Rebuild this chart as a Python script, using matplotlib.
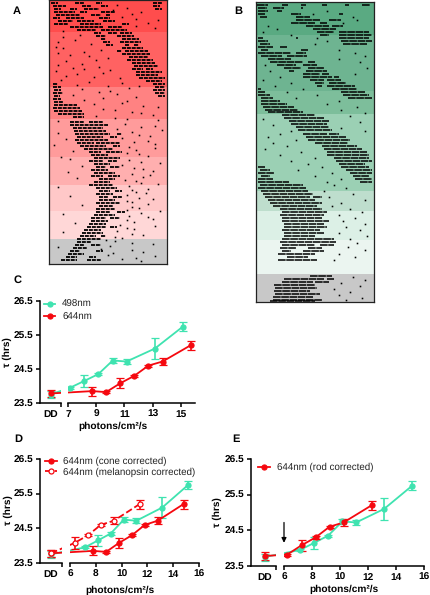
import matplotlib
matplotlib.use('Agg')
import matplotlib.pyplot as plt
from matplotlib.lines import Line2D

plt.rcParams['font.family'] = ['Liberation Sans', 'DejaVu Sans']
plt.rcParams['text.hinting'] = 'no_hinting'

W, H = 430, 595

# actogram background bands (top row, colour)
a_edges = [0, 32, 87, 119, 157, 185, 211, 239, 264]
a_colors = ['#ff4d4d', '#ff6262', '#ff8282', '#ff9b9b', '#ffafaf', '#ffc8c8', '#ffd7d7', '#c8c8c8']
b_edges = [0, 33, 89, 112, 189, 209, 238, 272, 300]
b_colors = ['#5aaa82', '#6eb491', '#7dbe9b', '#9bd0b4', '#bedecd', '#dcf0e6', '#ebf5f0', '#c8c8c8']

# activity bouts: (row, start %, end %)
a_bouts = [(3,2,8),(3,22,30),(3,40,45),(3,88,96),(6,3,14),(6,28,36),(6,44,50),(6,88,94),(9,4,10),(9,18,24),
    (9,30,42),(9,90,96),(12,4,22),(12,26,32),(12,44,56),(15,6,26),(15,36,44),(15,48,52),(18,3,9),(18,14,30),
    (18,42,52),(21,8,20),(21,24,38),(21,46,56),(24,4,16),(24,26,44),(24,62,68),(27,18,46),(27,50,62),(30,24,40),
    (30,44,66),(33,38,44),(33,50,58),(33,60,70),(36,40,48),(36,58,72),(39,44,48),(39,62,76),(42,46,52),(42,60,78),
    (45,48,54),(45,64,68),(45,72,76),(48,62,80),(51,58,62),(51,64,84),(54,62,86),(57,68,84),(60,66,88),(63,70,90),
    (66,72,92),(69,70,80),(69,82,88),(72,74,96),(75,74,92),(78,76,98),(81,82,96),(84,3,8),(84,88,98),(87,3,10),
    (87,90,98),(90,4,10),(90,88,98),(93,3,12),(93,90,98),(96,4,9),(96,92,98),(99,3,10),(102,4,12),(105,4,24),
    (108,3,26),(111,4,28),(114,8,30),(117,20,30),(122,18,30),(122,34,46),(125,18,50),(128,20,46),(131,21,48),
    (134,22,52),(134,58,62),(137,24,46),(137,52,58),(140,22,50),(143,24,38),(143,40,60),(146,26,48),(146,54,60),
    (149,30,54),(152,34,44),(152,48,62),(155,36,50),(158,38,60),(161,34,46),(161,50,58),(164,38,52),(167,40,48),
    (167,52,60),(170,36,50),(173,38,56),(176,36,46),(176,50,60),(179,42,56),(182,38,52),(185,34,54),(188,40,58),
    (191,42,52),(191,56,62),(194,40,54),(197,42,50),(197,54,62),(200,42,56),(203,40,60),(206,42,54),(209,40,56),
    (212,40,52),(212,58,64),(215,38,56),(218,36,48),(218,52,60),(221,36,50),(224,34,48),(227,32,48),(227,52,58),
    (230,30,44),(233,28,46),(236,26,40),(236,44,48),(239,24,44),(242,24,36),(245,22,30),(245,36,44),(248,20,32),
    (251,18,26),(251,40,46),(254,16,30),(257,14,24),(257,34,40),(260,10,24),(260,32,44)]
a_specks = [(8,66,),(14,70),(19,74),(23,84),(28,90),(12,78),(37,12),(42,8),(48,12),(52,30),(55,18),(60,40),(64,28),
    (68,20),(71,6),(73,46),(76,14),(78,60),(70,52),(82,34),(85,24),(86,50),(88,68),(92,42),(94,58),(97,74),(100,30),
    (103,62),(106,80),(109,46),(112,70),(115,88),(118,56),(120,92),(124,64),(127,78),(130,96),(133,8),(136,86),
    (139,14),(142,72),(145,4),(148,90),(151,20),(154,76),(157,10),(160,68),(163,94),(166,28),(169,80),(172,16),
    (175,86),(178,24),(181,74),(184,92),(187,8),(190,70),(193,82),(196,18),(199,88),(202,70),(205,28),(208,76),
    (211,94),(214,12),(217,84),(220,66),(223,22),(226,90),(229,72),(232,12),(235,80),(238,62),(241,56),(244,88),
    (247,8),(250,70),(253,54),(256,90),(259,62),(261,78),(5,58),(10,54),(17,62),(20,92),(26,74),(31,12),(35,26),
    (40,22),(44,36),(47,6),(50,44),(53,8),(56,34),(58,50),(61,14),(65,8),(67,42),(69,30),(74,24),(77,38),(80,10),
    (83,62),(86,76),(89,28),(91,52),(95,20),(98,46),(101,66),(104,38),(107,92),(110,56),(113,78),(116,40),(119,66),
    (121,8),(126,90),(129,58),(132,70),(135,76),(138,62),(141,84),(144,90),(147,68),(150,74),(153,66),(156,84),
    (159,18),(162,78),(165,62),(168,72),(171,88),(174,70),(177,80),(180,64),(183,78),(186,68),(189,84),(192,74),
    (195,66),(198,76),(201,66),(204,84),(207,70),(210,66),(213,78),(216,68),(219,88),(222,72),(225,60),(228,66),
    (231,58),(234,70),(237,56),(240,48),(243,70),(246,52),(249,44),(252,80),(255,50),(258,74)]
b_bouts = [(3,1,10),(3,22,27),(3,38,42),(3,56,60),(3,75,79),(3,90,97),(6,2,9),(6,14,24),(6,38,40),(9,2,10),(9,18,22),
    (12,2,8),(12,30,38),(12,70,74),(15,3,9),(15,34,46),(18,34,54),(18,62,72),(21,30,50),(21,54,60),(24,42,62),(24,64,74),
    (27,48,68),(30,52,66),(30,70,96),(33,54,62),(33,70,98),(36,2,6),(36,34,36),(36,70,96),(39,2,10),(39,72,98),
    (42,3,12),(42,74,94),(45,2,14),(45,20,26),(48,4,10),(48,38,44),(51,2,30),(51,34,42),(54,4,22),(54,26,43),
    (57,10,30),(60,12,40),(60,44,50),(63,18,34),(63,40,52),(66,24,38),(66,44,58),(69,28,32),(69,42,60),(72,40,54),
    (72,56,62),(75,40,64),(75,66,70),(78,46,58),(78,60,72),(81,50,58),(81,62,76),(84,52,56),(84,60,84),(87,2,4),
    (87,64,86),(90,2,8),(90,72,92),(93,2,12),(93,74,96),(96,4,14),(96,78,98),(99,4,20),(102,4,26),(105,6,32),
    (108,8,36),(110,10,40),(113,22,50),(116,24,58),(119,28,62),(122,30,60),(125,34,62),(128,36,64),(132,40,60),
    (132,62,70),(135,42,76),(138,44,80),(141,50,78),(144,56,86),(147,58,90),(150,60,94),(153,60,96),(156,66,96),
    (159,68,98),(162,70,92),(165,2,8),(165,72,96),(168,3,12),(168,76,98),(171,2,15),(171,80,98),(174,4,12),
    (174,82,96),(177,2,14),(177,84,98),(180,2,28),(180,88,98),(183,3,40),(186,2,42),(189,4,44),(192,6,48),
    (195,8,46),(195,48,56),(198,10,50),(201,12,56),(204,14,52),(207,20,56),(210,22,60),(213,20,58),(216,22,56),
    (219,22,62),(222,24,58),(225,24,60),(228,22,54),(231,24,58),(234,24,50),(237,22,66),(240,20,68),(243,22,50),
    (243,54,66),(246,20,34),(246,44,56),(249,22,30),(249,40,58),(252,19,50),(255,26,44),(258,19,52),(274,46,64),
    (277,24,58),(277,60,66),(280,22,48),(280,50,62),(283,15,50),(286,16,52),(289,15,46),(292,16,54),(295,14,48),
    (298,14,56),(299,12,50)]
b_specks = [(9,60),(12,48),(15,82),(18,86),(21,74),(24,10),(27,18),(30,6),(33,30),(36,52),(39,60),(42,50),(48,70),
    (51,84),(54,92),(57,70),(60,88),(63,8),(66,94),(69,12),(72,84),(75,20),(78,6),(81,30),(84,16),(87,40),(90,26),
    (93,52),(96,34),(99,70),(102,60),(105,86),(108,72),(111,92),(114,80),(117,6),(120,88),(123,14),(126,72),(129,30),
    (129,92),(132,20),(135,10),(138,34),(141,14),(144,26),(147,8),(150,38),(153,20),(156,50),(159,30),(162,44),
    (165,56),(168,36),(171,64),(174,50),(177,72),(180,60),(183,66),(186,76),(189,58),(192,82),(195,62),(198,92),
    (201,72),(204,64),(207,80),(210,90),(213,70),(216,84),(219,74),(222,92),(225,76),(228,88),(231,70),(234,94),
    (237,80),(241,86),(245,78),(248,92),(252,70),(255,84),(258,66),(275,82),(278,92),(281,72),(284,88),(287,66),
    (290,80),(293,70),(296,90),(298,76)]

# tau values, shared between panels
green_dd, green_dd_err = 23.75, 0.1
green_x = [7.15, 8.16, 9.15, 10.17, 11.15, 13.15, 15.15]
green_tau = [23.95, 24.15, 24.35, 24.75, 24.72, 25.1, 25.75]
green_err = [0.03, 0.17, 0.03, 0.08, 0.08, 0.3, 0.12]

red_dd, red_dd_err = 23.78, 0.1
red_tau = [23.85, 23.82, 24.08, 24.3, 24.6, 24.72, 25.2]
red_err = [0.13, 0.03, 0.15, 0.03, 0.03, 0.1, 0.13]
c_red_x = [8.73, 9.7, 10.7, 11.7, 12.7, 13.7, 15.7]
d_red_x = [7.8, 8.8, 9.8, 10.8, 11.8, 12.8, 14.8]

open_x = [6.36, 7.39, 8.39, 9.4, 11.4]
open_tau = [24.08, 24.3, 24.6, 24.72, 25.2]
open_err = [0.17, 0.03, 0.03, 0.1, 0.13]

e_red_x = [6.23, 7.25, 8.25, 9.25, 10.25, 12.25]
e_red_tau = [23.82, 24.08, 24.3, 24.6, 24.72, 25.2]
e_red_err = [0.03, 0.15, 0.03, 0.03, 0.1, 0.13]

y_ticks = [23.5, 24.5, 25.5, 26.5]
GREEN = '#3fe3b0'
RED = '#f5080f'

fig = plt.figure(figsize=(W / 100, H / 100), dpi=100)


def px_axes(left, top, right, bottom):
    return fig.add_axes([left / W, 1 - bottom / H, (right - left) / W, (bottom - top) / H])


def px_text(x, y, s, **kw):
    fig.text(x / W, 1 - y / H, s, ha='center', va='center', **kw)


def actogram(box, edges, colors, bouts, specks, lw, dash):
    ax = px_axes(*box)
    for i in range(len(colors)):
        ax.axhspan(edges[i], edges[i + 1], color=colors[i], lw=0)
    ax.hlines([b[0] for b in bouts], [b[1] for b in bouts], [b[2] for b in bouts], color='k', lw=lw,
              linestyles=[(0, dash)])
    ax.plot([s[1] for s in specks], [s[0] for s in specks], 's', color='k', ms=1.15, mew=0)
    ax.set_xlim(0, 100)
    ax.set_ylim(edges[-1], 0)
    ax.set_xticks([])
    ax.set_yticks([])
    for s in ax.spines.values():
        s.set_linewidth(0.9)
        s.set_color('#222222')


def broken_axes(left, split, restart, right, top, bottom, xlim, xticks, dd_pos=0.5):
    ax_dd = px_axes(left, top, split, bottom)
    ax = px_axes(restart, top, right, bottom)
    ax_dd.set_xlim(0, 1)
    ax.set_xlim(*xlim)
    for a in (ax_dd, ax):
        a.set_ylim(23.5, 26.5)
        a.patch.set_alpha(0)
        a.spines['top'].set_visible(False)
        a.spines['right'].set_visible(False)
        a.spines['bottom'].set_linewidth(1.1)
        a.tick_params(width=1.1, length=3.2, pad=1.5, labelsize=7.3)
    ax.spines['left'].set_visible(False)
    ax.set_yticks([])
    ax_dd.spines['left'].set_linewidth(1.1)
    ax_dd.set_yticks(y_ticks, ['%.1f' % t for t in y_ticks], fontweight='bold')
    ax_dd.set_xticks([1], [''])
    ax_dd.set_xticks([dd_pos], ['DD'], minor=True, fontweight='bold')
    ax_dd.tick_params(axis='x', which='minor', length=0, pad=4.7, labelsize=7.3)
    ax.set_xticks(xticks, [str(t) for t in xticks], fontweight='bold')
    return ax_dd, ax, dd_pos


def series(axes, x, tau, err, dd, dd_err, color, ls='-', face=None):
    ax_dd, ax, dd_pos = axes
    pos = ax_dd.transData.transform((dd_pos, dd))
    dd_x = ax.transData.inverted().transform(pos)[0]
    xlim = ax.get_xlim(), ax_dd.get_xlim()
    for a in (ax, ax_dd):
        a.plot([dd_x] + list(x), [dd] + list(tau), ls, color=color, lw=1.3, transform=ax.transData)
    ax.set_xlim(xlim[0])
    ax_dd.set_xlim(xlim[1])
    style = dict(fmt='o', color=color, ms=3.6, mew=0.9, mfc=face or color, elinewidth=1.2, capsize=3, capthick=1.2)
    ax.errorbar(x, tau, yerr=err, **style)
    ax_dd.errorbar([dd_pos], [dd], yerr=[dd_err], **style)


def px_legend(x, y, entries, handle=11, gap=7, step=13):
    handles = [Line2D([], [], color=c, ls=ls, lw=1.3, marker='o', ms=3.6, mew=0.9, mfc=f) for c, ls, f, _ in entries]
    fs = 9.7
    fig.legend(handles, [e[3] for e in entries], loc='upper left', bbox_to_anchor=(x / W, 1 - y / H),
               frameon=False, fontsize=7, borderpad=0, borderaxespad=0, handlelength=handle / fs,
               handletextpad=gap / fs, labelspacing=(step - fs) / fs, labelcolor='#222222')


actogram((49, 0, 167, 264), a_edges, a_colors, a_bouts, a_specks, 1.3, (2.2, 0.5))
actogram((256, 2, 374, 302), b_edges, b_colors, b_bouts, b_specks, 1.1, (5, 0.4))

# panel C
c = broken_axes(40, 61, 68, 195, 301, 403, (7, 16), [7, 9, 11, 13, 15])
series(c, green_x, green_tau, green_err, green_dd, green_dd_err, GREEN)
series(c, c_red_x, red_tau, red_err, red_dd, red_dd_err, RED)
px_legend(44, 300, [(GREEN, '-', GREEN, '498nm'), (RED, '-', RED, '644nm')])

# panel D
d = broken_axes(40, 62, 70, 199, 459, 563, (6, 16), [6, 8, 10, 12, 14, 16])
series(d, green_x, green_tau, green_err, green_dd, green_dd_err, GREEN)
series(d, d_red_x, red_tau, red_err, red_dd, red_dd_err, RED)
series(d, open_x, open_tau, open_err, red_dd, red_dd_err, RED, ls='--', face='white')
px_legend(45, 457, [(RED, '-', RED, '644nm (cone corrected)'), (RED, '--', 'white', '644nm (melanopsin corrected)')], handle=12, gap=6, step=11)

# panel E
e = broken_axes(251, 276, 284, 424, 459, 566, (6, 16), [6, 8, 10, 12, 14, 16], dd_pos=0.54)
series(e, green_x, green_tau, green_err, green_dd, green_dd_err, GREEN)
series(e, e_red_x, e_red_tau, e_red_err, red_dd, red_dd_err, RED)
px_legend(258, 463, [(RED, '-', RED, '644nm (rod corrected)')], handle=12)
e[1].annotate('', xy=(6, 24.15), xytext=(6, 24.72), arrowprops=dict(arrowstyle='-|>', color='k', lw=0.9, mutation_scale=7, shrinkA=0, shrinkB=0))

for x, y, s in [(113, 426, 'photons/cm\u00b2/s'), (120, 590, 'photons/cm\u00b2/s'), (344, 589, 'photons/cm\u00b2/s')]:
    px_text(x, y, s, fontsize=7.3, fontweight='bold')
for x, y in [(7, 352), (8, 510), (217, 512)]:
    px_text(x, y, '\u03c4 (hrs)', fontsize=7.3, fontweight='bold', rotation=90)
for x, y, s in [(17, 11, 'A'), (238, 11, 'B'), (18, 280, 'C'), (18, 439, 'D'), (236, 439, 'E')]:
    px_text(x, y, s, fontsize=8, fontweight='bold')

fig.savefig('out.png', dpi=100)
